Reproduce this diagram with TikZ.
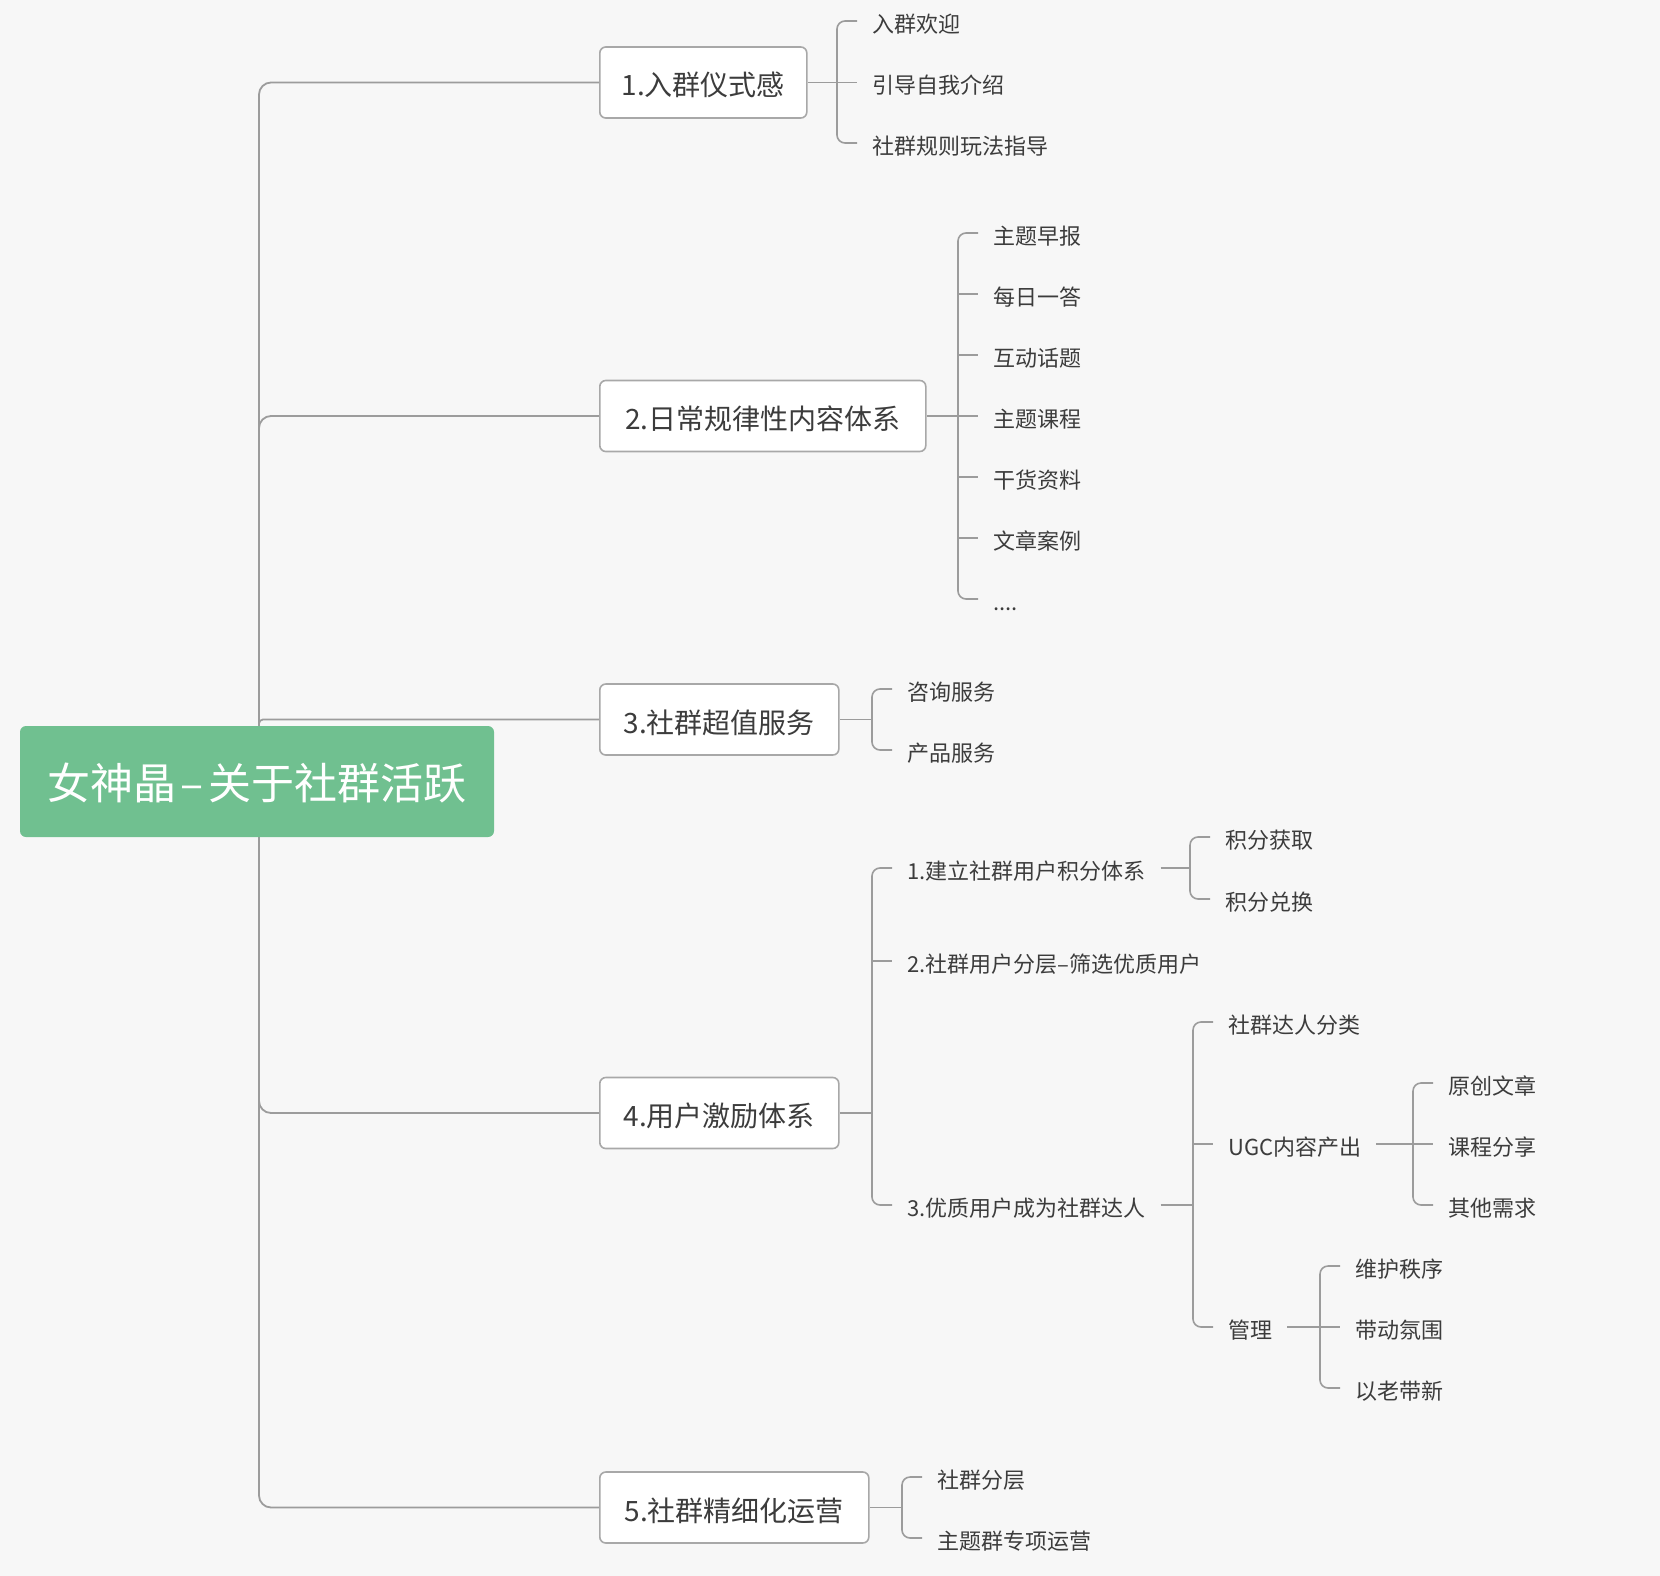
\documentclass[tikz,border=0pt]{standalone}
\usepackage{fontspec}
\setmainfont{Noto Sans CJK SC}
\usetikzlibrary{backgrounds}
\pgfdeclarelayer{edges}
\pgfsetlayers{background,edges,main}

\definecolor{bgc}{HTML}{F7F7F7}
\definecolor{linec}{HTML}{9C9C9C}
\definecolor{boxc}{HTML}{A8A8A8}
\definecolor{rootc}{HTML}{70C090}
\definecolor{txtc}{HTML}{3C3C3C}

\begin{document}
\begin{tikzpicture}[x=1pt,y=-1pt,
  root/.style={fill=rootc, rounded corners=6pt, text=white, font=\fontsize{43}{50}\selectfont,
    minimum width=474pt, minimum height=111pt, inner sep=0pt, text height=36pt, text depth=0pt},
  topic/.style={draw=boxc, fill=white, line width=1.6pt, rounded corners=6pt, text=txtc,
    font=\fontsize{28}{34}\selectfont, minimum height=71pt, inner sep=0pt, anchor=west,
    text height=27pt, text depth=0pt},
  leaf/.style={text=txtc, font=\fontsize{22}{26}\selectfont, inner xsep=15pt, inner ysep=0pt, anchor=west,
    text height=22.5pt, text depth=0pt},
  trunk/.style={draw=linec, line width=1.8pt, rounded corners=12pt},
  twig/.style={draw=linec, line width=1.6pt, rounded corners=8pt}]

\useasboundingbox (0,0) rectangle (1660,1576);
\begin{scope}[on background layer]
\fill[bgc] (0,0) rectangle (1660,1576);
\end{scope}

\node[root] (root) at (257,781.5) {女神晶\kern4pt–\kern4pt关于社群活跃};

\node[topic, minimum width=207pt] (t1) at (599,82.5) {1.入群仪式感};
\node[topic, minimum width=326pt] (t2) at (599,416) {2.日常规律性内容体系};
\node[topic, minimum width=239pt] (t3) at (599,719.5) {3.社群超值服务};
\node[topic, minimum width=239pt] (t4) at (599,1113) {4.用户激励体系};
\node[topic, minimum width=269pt] (t5) at (599,1507.5) {5.社群精细化运营};

% 1
\node[leaf] (l11) at (857,21) {入群欢迎};
\node[leaf] (l12) at (857,82.5) {引导自我介绍};
\node[leaf] (l13) at (857,143) {社群规则玩法指导};

% 2
\node[leaf] (l21) at (978,233) {主题早报};
\node[leaf] (l22) at (978,294) {每日一答};
\node[leaf] (l23) at (978,355) {互动话题};
\node[leaf] (l24) at (978,416) {主题课程};
\node[leaf] (l25) at (978,477) {干货资料};
\node[leaf] (l26) at (978,538) {文章案例};
\node[leaf] (l27) at (978,599) {....};

% 3
\node[leaf] (l31) at (892,689) {咨询服务};
\node[leaf] (l32) at (892,750) {产品服务};

% 4
\node[leaf] (l41) at (892,868) {1.建立社群用户积分体系};
\node[leaf] (l42) at (892,961) {2.社群用户分层–筛选优质用户};
\node[leaf] (l43) at (892,1205) {3.优质用户成为社群达人};

\node[leaf] (l411) at (1210,837) {积分获取};
\node[leaf] (l412) at (1210,899) {积分兑换};

\node[leaf] (l431) at (1213,1022) {社群达人分类};
\node[leaf] (l432) at (1213,1144) {UGC内容产出};
\node[leaf] (l433) at (1213,1327) {管理};

\node[leaf] (ugc1) at (1433,1083) {原创文章};
\node[leaf] (ugc2) at (1433,1144) {课程分享};
\node[leaf] (ugc3) at (1433,1205) {其他需求};

\node[leaf] (mg1) at (1340,1266) {维护秩序};
\node[leaf] (mg2) at (1340,1327) {带动氛围};
\node[leaf] (mg3) at (1340,1388) {以老带新};

% 5
\node[leaf] (l51) at (922,1477) {社群分层};
\node[leaf] (l52) at (922,1538) {主题群专项运营};

% junctions
\coordinate (rt) at ([xshift=2pt]root.north);
\coordinate (rb) at ([xshift=2pt]root.south);
\path (l11.west |- t1.east) ++(-20,0) coordinate (j1);
\path (l21.west |- t2.east) ++(-20,0) coordinate (j2);
\path (l31.west |- t3.east) ++(-20,0) coordinate (j3);
\path (l41.west |- t4.east) ++(-20,0) coordinate (j4);
\path (l51.west |- t5.east) ++(-20,0) coordinate (j5);
\path (l411.west |- l41.east) ++(-20,0) coordinate (j41);
\path (l431.west |- l43.east) ++(-20,0) coordinate (j43);
\path (ugc1.west |- l432.east) ++(-20,0) coordinate (jugc);
\path (mg1.west |- l433.east) ++(-20,0) coordinate (jmg);

\begin{pgfonlayer}{edges}
\draw[trunk] (rt) |- (t1.west);
\draw[trunk] (rt) |- (t2.west);
\draw[trunk, rounded corners=4pt] (rt) |- (t3.west);
\draw[trunk] (rb) |- (t4.west);
\draw[trunk] (rb) |- (t5.west);

\draw[twig] (t1.east) -- (j1);
\draw[twig] (l11.west) -| (j1) |- (l13.west);
\draw[twig] (j1) -- (l12.west);

\draw[twig] (t2.east) -- (j2);
\draw[twig] (l21.west) -| (j2) |- (l27.west);
\foreach \i in {2,...,6}
  \draw[twig] (l2\i.west -| j2) -- (l2\i.west);

\draw[twig] (t3.east) -- (j3);
\draw[twig] (l31.west) -| (j3) |- (l32.west);

\draw[twig] (t4.east) -- (j4);
\draw[twig] (l41.west) -| (j4) |- (l43.west);
\draw[twig] (l42.west -| j4) -- (l42.west);

\draw[twig] (l41.east) -- (j41);
\draw[twig] (l411.west) -| (j41) |- (l412.west);

\draw[twig] (l43.east) -- (j43);
\draw[twig] (l431.west) -| (j43) |- (l433.west);
\draw[twig] (l432.west -| j43) -- (l432.west);

\draw[twig] (l432.east) -- (jugc);
\draw[twig] (ugc1.west) -| (jugc) |- (ugc3.west);
\draw[twig] (ugc2.west -| jugc) -- (ugc2.west);

\draw[twig] (l433.east) -- (jmg);
\draw[twig] (mg1.west) -| (jmg) |- (mg3.west);
\draw[twig] (mg2.west -| jmg) -- (mg2.west);

\draw[twig] (t5.east) -- (j5);
\draw[twig] (l51.west) -| (j5) |- (l52.west);
\end{pgfonlayer}

\end{tikzpicture}
\end{document}
